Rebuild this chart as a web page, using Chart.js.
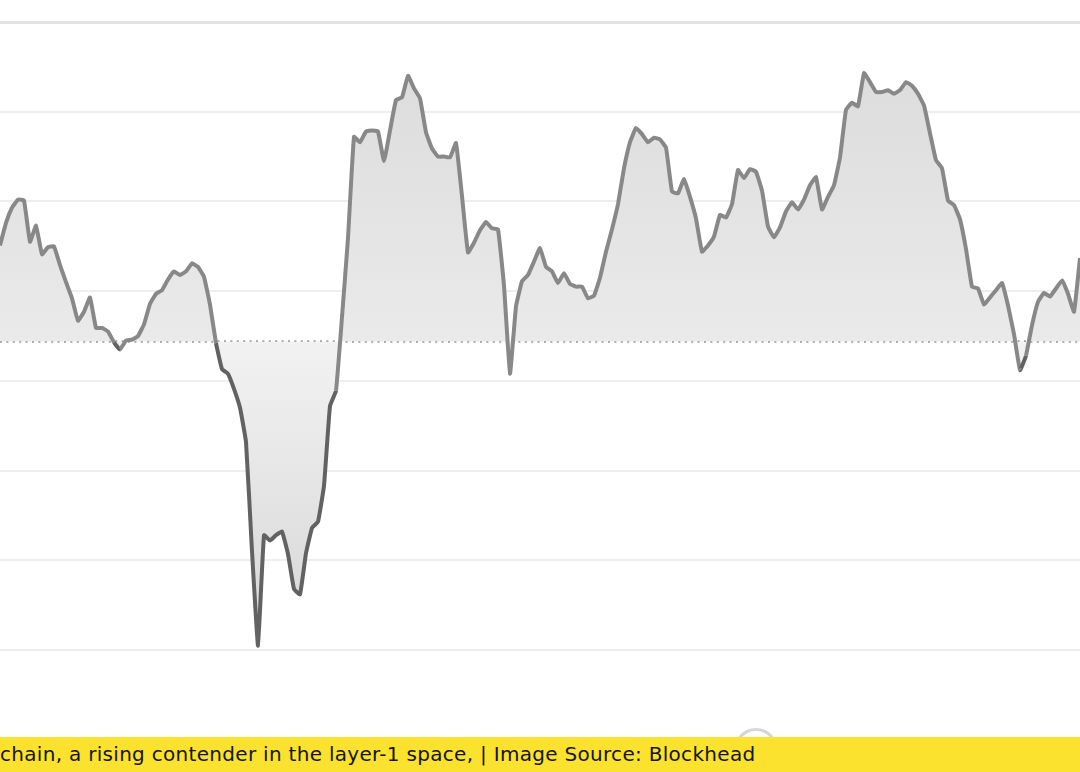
<!DOCTYPE html>
<html>
<head>
<meta charset="utf-8">
<script src="https://cdn.jsdelivr.net/npm/chart.js@4.4.1/dist/chart.umd.min.js"></script>
<style>
  body { margin: 0; background: #fff; width: 1080px; height: 772px; overflow: hidden; position: relative; }
  #wrap { position: absolute; left: 0; top: 0; width: 1080px; height: 737px; }
  #spinner { position: absolute; left: 734px; top: 728px; width: 38px; height: 38px;
             border: 3px solid #d6d6d6; border-radius: 50%; }
  #caption { position: absolute; left: 0; top: 737px; width: 1080px; height: 35px;
             background: #fae22e; color: #151515; font-family: 'DejaVu Sans', sans-serif;
             font-size: 20px; letter-spacing: 0.3px; line-height: 35px; white-space: nowrap; }
</style>
</head>
<body>
<div id="wrap"><canvas id="myChart" width="1080" height="737"></canvas></div>
<div id="spinner"></div>
<div id="caption">chain, a rising contender in the layer-1 space, | Image Source: Blockhead</div>
<script>
// Series values (one reading per day)
var values = [
    5.1, 7.6, 9.3, 10.2, 10.1, 5.5, 7.3, 4.1, 4.9, 5.0,
    2.9, 1.0, -0.8, -3.3, -2.3, -0.7, -4.1, -4.1, -4.5, -5.7,
    -6.5, -5.5, -5.4, -5.0, -3.7, -1.4, -0.3, 0.1, 1.3, 2.2,
    1.8, 2.2, 3.1, 2.7, 1.6, -1.5, -5.8, -8.7, -9.2, -10.9,
    -13.0, -16.8, -29.0, -39.5, -27.2, -27.8, -27.2, -26.8, -29.3, -33.2,
    -33.8, -29.2, -26.4, -25.7, -21.7, -12.8, -11.1, -2.9, 5.9, 17.2,
    16.6, 17.8, 17.9, 17.8, 14.5, 17.9, 21.3, 21.6, 24.0, 22.6,
    21.5, 17.7, 15.9, 15.0, 15.0, 14.9, 16.5, 10.6, 4.3, 5.4,
    6.8, 7.7, 7.0, 6.9, 0.6, -9.2, -1.7, 1.1, 1.8, 3.3,
    4.8, 2.7, 2.2, 0.9, 2.0, 0.8, 0.5, 0.5, -0.8, -0.5,
    1.5, 4.4, 6.9, 9.7, 13.7, 16.6, 18.2, 17.5, 16.6, 17.1,
    16.9, 16.0, 11.1, 10.9, 12.5, 10.5, 8.1, 4.4, 5.1, 6.1,
    8.5, 8.2, 9.7, 13.5, 12.6, 13.6, 13.3, 11.2, 7.2, 6.0,
    7.1, 8.9, 9.9, 9.1, 10.2, 11.8, 12.7, 9.1, 10.5, 11.8,
    14.9, 20.2, 21.0, 20.6, 24.3, 23.3, 22.2, 22.2, 22.4, 22.0,
    22.4, 23.3, 22.9, 22.0, 20.7, 17.6, 14.6, 13.7, 10.1, 9.6,
    8.0, 4.7, 0.5, 0.3, -1.5, -0.7, 0.1, 0.9, -1.6, -4.8,
    -8.8, -7.2, -3.8, -1.2, -0.2, -0.6, 0.3, 1.2, -0.3, -2.3,
    3.7
];
var days = values.map(function (v, i) { return i + 1; });
var baseline = -5.6;
var yTicks = [-40, -30, -20, -10, 0, 10, 20, 30];

var lineUp = '#888888';
var lineDown = '#626262';

var ctx = document.getElementById('myChart').getContext('2d');
var chart = new Chart(ctx, {
    type: 'line',
    data: {
        labels: days,
        datasets: [{
            data: values,
            borderWidth: 4,
            borderColor: lineUp,
            pointRadius: 0,
            tension: 0.1,
            borderJoinStyle: 'round',
            fill: { target: { value: baseline }, above: '#e6e6e6', below: '#e6e6e6' },
            segment: {
                borderColor: function (c) {
                    return (c.p0.parsed.y < baseline && c.p1.parsed.y < baseline) ? lineDown : undefined;
                }
            }
        }, {
            // dotted reference line
            data: days.map(function () { return baseline; }),
            borderWidth: 2,
            borderColor: '#6e6e6e',
            borderDash: [2, 4.4],
            pointRadius: 0,
            fill: false
        }]
    },
    options: {
        responsive: false,
        animation: false,
        layout: { autoPadding: false, padding: { top: 22, bottom: 87, left: 0, right: 0 } },
        plugins: { legend: { display: false }, tooltip: { enabled: false } },
        scales: {
            x: { display: false, offset: false },
            y: {
                min: yTicks[0],
                max: yTicks[yTicks.length - 1],
                afterBuildTicks: function (scale) {
                    scale.ticks = yTicks.map(function (v) { return { value: v }; });
                },
                afterFit: function (scale) { scale.width = 0; },
                ticks: { display: false, padding: 0 },
                border: { display: false },
                grid: {
                    drawTicks: false,
                    color: function (c) { return c.tick && c.tick.value === 30 ? '#e2e2e2' : '#eeeeee'; },
                    lineWidth: function (c) { return c.tick && c.tick.value === 30 ? 3 : 2; }
                }
            }
        }
    }
});

// gradient fills once the chart area is known
var area = chart.chartArea;
var yBase = chart.scales.y.getPixelForValue(baseline);
var gUp = ctx.createLinearGradient(0, area.top, 0, yBase);
gUp.addColorStop(0, '#dadada');
gUp.addColorStop(1, '#eaeaea');
var gDown = ctx.createLinearGradient(0, yBase, 0, area.bottom);
gDown.addColorStop(0, '#f2f2f2');
gDown.addColorStop(1, '#d6d6d6');
chart.data.datasets[0].fill.above = gUp;
chart.data.datasets[0].fill.below = gDown;
chart.update('none');
</script>
</body>
</html>
